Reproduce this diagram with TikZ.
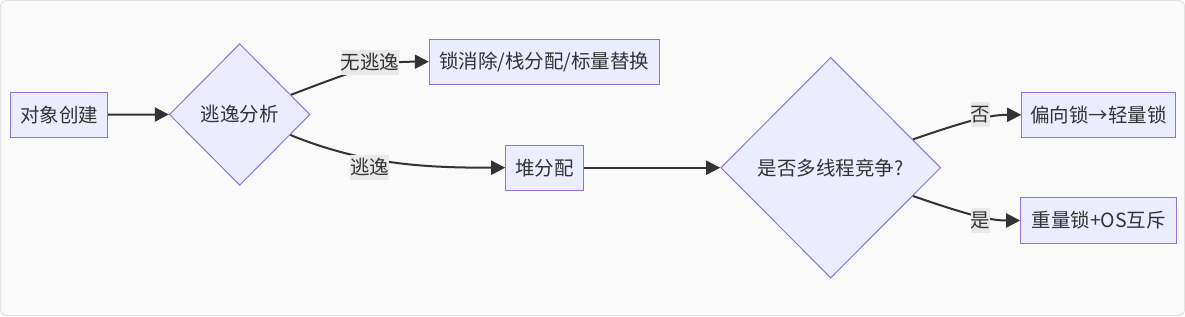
\documentclass[tikz,border=0pt]{standalone}
\usepackage{fontspec}
\setmainfont{Noto Sans CJK SC}
\usetikzlibrary{shapes.geometric,arrows.meta}
\definecolor{nodefill}{HTML}{ECECFF}
\definecolor{nodeline}{HTML}{9370DB}
\definecolor{edgecol}{HTML}{333333}
\definecolor{txt}{HTML}{333333}
\definecolor{labbg}{HTML}{E9E9E9}
\definecolor{bgfill}{HTML}{FAFAFA}
\definecolor{bgline}{HTML}{E2E2E2}
\tikzset{
  base/.style={font=\fontsize{19.5}{23}\selectfont, text=txt},
  boxnode/.style={base, draw=nodeline, fill=nodefill, line width=1pt, inner sep=0pt, minimum height=45pt},
  decision/.style={base, diamond, draw=nodeline, fill=nodefill, line width=1pt, inner sep=0pt, aspect=1},
  edge/.style={draw=edgecol, line width=2pt, -{Triangle[length=14pt,width=14pt]}},
  elabel/.style={base, fill=labbg, inner xsep=0pt, inner ysep=0pt, minimum height=25pt}
}
\begin{document}
\begin{tikzpicture}[x=1pt,y=1pt]
\useasboundingbox (0,0) rectangle (1185,316);
\draw[bgline, fill=bgfill, line width=1pt, rounded corners=6pt] (0.5,0.5) rectangle (1184.5,315.5);

\node[boxnode, minimum width=97pt] (A) at (59.2,201.4) {对象创建};
\node[decision, minimum width=140.7pt, minimum height=141.6pt] (B) at (239.7,201.5) {逃逸分析};
\node[boxnode, minimum width=230pt] (C) at (544.3,254.3) {锁消除/栈分配/标量替换};
\node[boxnode, minimum width=77.6pt] (D) at (544.5,148.3) {堆分配};
\node[decision, minimum width=220pt, minimum height=220.7pt] (E) at (830.7,148.3) {是否多线程竞争?};
\node[boxnode, minimum width=154pt] (F) at (1098.7,201.2) {偏向锁→轻量锁};
\node[boxnode, minimum width=156pt] (G) at (1098.7,95.5) {重量锁+OS互斥};

\draw[edge] (A.east) -- (B.west);
\draw[edge] (B.21) .. controls (365.3,249.6) and (380,254.3) .. (C.west);
\draw[edge] (B.-22) .. controls (365.2,150.3) and (430,148.3) .. (D.west);
\draw[edge] (D.east) -- (E.west);
\draw[edge] (E.19) .. controls (969.3,196.0) and (990,201.2) .. (F.west);
\draw[edge] (E.-19) .. controls (969.3,100.6) and (990,95.5) .. (G.west);

\node[elabel] (L1) at (370,253.5) {无逃逸};
\node[elabel] (L2) at (369.5,148.5) {逃逸};
\node[elabel] (L3) at (980.7,201.2) {否};
\node[elabel] (L4) at (980.7,95.2) {是};
\end{tikzpicture}
\end{document}
